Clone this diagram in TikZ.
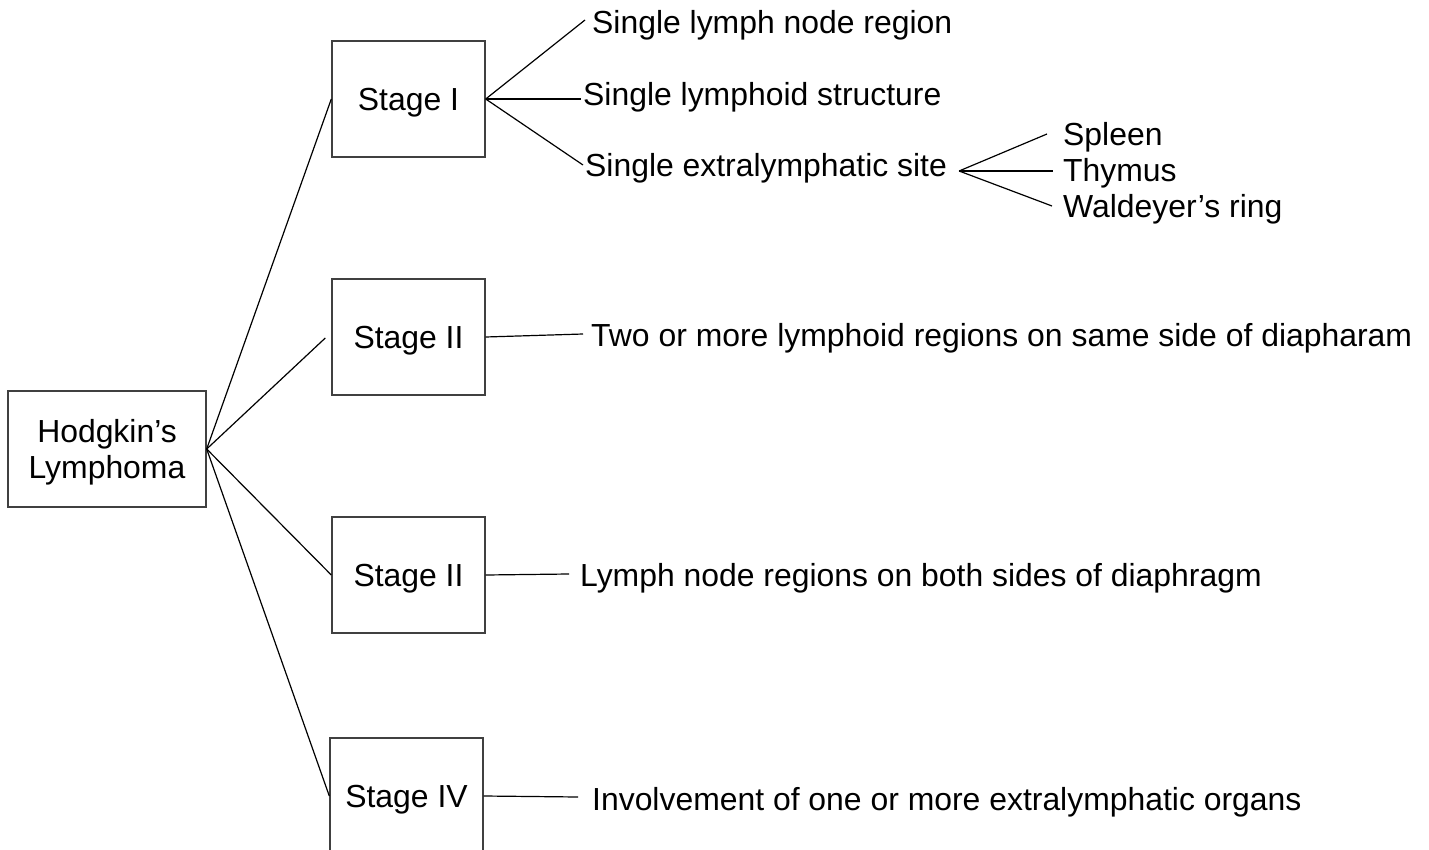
\documentclass[tikz,border=0pt]{standalone}
\usepackage{fontspec}
\setmainfont{Liberation Sans}
\usetikzlibrary{calc}
\begin{document}
\begin{tikzpicture}[x=1pt,y=-1pt,
  every node/.style={font=\fontsize{31.9}{36}\selectfont},
  stagebox/.style={draw=black!75, line width=1.4pt, minimum width=153pt,
    minimum height=116pt, inner sep=0pt, text depth=0pt},
  lbl/.style={anchor=base west, inner sep=0pt},
  conn/.style={line width=1.2pt, black}]
\useasboundingbox (0,0) rectangle (1429,850);
\fill[white] (0,0) rectangle (1429,850);
\clip (0,0) rectangle (1429,850);

% main boxes
\node[stagebox, minimum width=198pt, align=center] (h) at (107,449) {Hodgkin’s\\Lymphoma};
\node[stagebox] (s1) at (408.5,99) {Stage I};
\node[stagebox] (s2) at (408.5,337) {Stage II};
\node[stagebox] (s3) at (408.5,575) {Stage II};
\node[stagebox] (s4) at (406.5,796) {Stage IV};

% labels
\node[lbl] (t1a) at (592,34) {Single lymph node region};
\node[lbl] (t1b) at (583,106) {Single lymphoid structure};
\node[lbl] (t1c) at (585,177) {Single extralymphatic site};
\node[lbl] (t2) at (591,346) {Two or more lymphoid regions on same side of diapharam};
\node[lbl] (t3) at (580,586) {Lymph node regions on both sides of diaphragm};
\node[lbl] (t4) at (592,810) {Involvement of one or more extralymphatic organs};
\node[lbl] (sp) at (1063,146) {Spleen};
\node[lbl] (th) at (1063,182) {Thymus};
\node[lbl] (wr) at (1063,218) {Waldeyer’s ring};

% connectors from Hodgkin's
\draw[conn] (h.east) -- (s1.west);
\draw[conn] (h.east) -- ($(s2.west)+(-6,1)$);
\draw[conn] (h.east) -- (s3.west);
\draw[conn] (h.east) -- (s4.west);

% Stage I
\draw[conn] (s1.east) -- ($(t1a.base west)+(-7,-14)$);
\draw[conn] (s1.east) -- ($(t1b.base west)+(-2,-7)$);
\draw[conn] (s1.east) -- ($(t1c.base west)+(-2,-12)$);

% other stages
\draw[conn] (s2.east) -- ($(t2.base west)+(-8,-12)$);
\draw[conn] (s3.east) -- ($(t3.base west)+(-11,-12)$);
\draw[conn] (s4.east) -- ($(t4.base west)+(-14,-13)$);

% extralymphatic site fork
\coordinate (fork) at ($(t1c.base east)+(12,-6)$);
\draw[conn] (fork) -- ($(sp.base west)+(-16,-12)$);
\draw[conn] (fork) -- ($(th.base west)+(-10,-11)$);
\draw[conn] (fork) -- ($(wr.base west)+(-11,-12)$);
\end{tikzpicture}
\end{document}
